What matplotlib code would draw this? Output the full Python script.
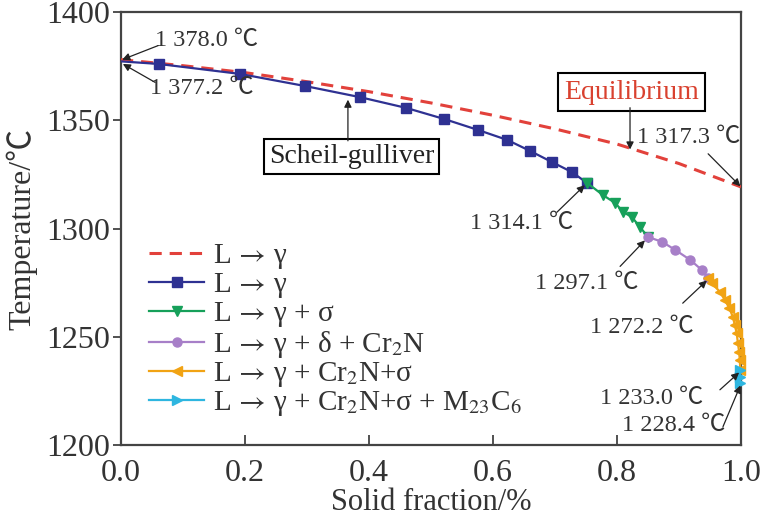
import matplotlib
matplotlib.use("Agg")
import matplotlib.pyplot as plt

plt.rcParams['font.family'] = ['Liberation Serif', 'Noto Sans CJK SC', 'DejaVu Serif']
plt.rcParams['mathtext.fontset'] = 'stix'

# 平衡凝固
eq_x = [0.0, 0.1, 0.2, 0.3, 0.4, 0.5, 0.6, 0.7, 0.8, 0.9, 1.0]
eq_T = [1378.0, 1375.2, 1372.0, 1367.8, 1363.2, 1358.0, 1352.3, 1346.0, 1339.0, 1330.0, 1319.2]

# Scheil-gulliver 各段
s1_x = [0.0, 0.061, 0.192, 0.297, 0.385, 0.460, 0.521, 0.576, 0.623, 0.660, 0.695, 0.727, 0.752]
s1_T = [1377.2, 1376.0, 1371.4, 1365.8, 1360.7, 1355.7, 1350.6, 1345.5, 1340.9, 1335.8, 1330.7, 1326.1, 1321.0]
s2_x = [0.752, 0.777, 0.797, 0.810, 0.824, 0.837, 0.850]
s2_T = [1321.0, 1315.5, 1311.8, 1307.6, 1305.3, 1300.7, 1296.1]
s3_x = [0.850, 0.873, 0.894, 0.918, 0.937, 0.947]
s3_T = [1296.1, 1293.8, 1290.1, 1285.5, 1280.8, 1277.1]
s4_x = [0.947, 0.953, 0.966, 0.974, 0.981, 0.987, 0.990, 0.993, 0.995, 0.997, 0.998, 0.999]
s4_T = [1277.1, 1274.8, 1270.7, 1267.0, 1263.3, 1259.1, 1255.4, 1251.7, 1247.1, 1243.0, 1239.3, 1234.6]
s5_x = [0.999, 0.999, 0.999]
s5_T = [1234.6, 1231.5, 1228.6]

labels = [
    r'L$\,\rightarrow\,$γ',
    r'L$\,\rightarrow\,$γ',
    r'L$\,\rightarrow\,$γ + σ',
    r'L$\,\rightarrow\,$γ + δ + Cr$_2$N',
    r'L$\,\rightarrow\,$γ + Cr$_2$N+σ',
    r'L$\,\rightarrow\,$γ + Cr$_2$N+σ + M$_{23}$C$_6$',
]

# 注释: (文字, 文字左端x, 文字中心y, 箭尾x, 箭尾y, 箭头x, 箭头y)
notes = [
    ('1 378.0 ℃', 0.055, 1387.0, 0.060, 1384.5, 0.002, 1378.0),
    ('1 377.2 ℃', 0.047, 1364.5, 0.055, 1367.5, 0.003, 1376.0),
    ('1 314.1 ℃', 0.563, 1302.5, 0.703, 1307.5, 0.748, 1320.0),
    ('1 297.1 ℃', 0.668, 1274.8, 0.805, 1282.5, 0.845, 1294.5),
    ('1 272.2 ℃', 0.757, 1254.5, 0.906, 1265.5, 0.945, 1276.0),
    ('1 233.0 ℃', 0.773, 1221.5, 0.966, 1225.5, 0.997, 1233.5),
    ('1 228.4 ℃', 0.808, 1209.0, 0.971, 1208.5, 0.999, 1227.5),
    ('1 317.3 ℃', 0.832, 1342.0, 0.947, 1334.5, 0.999, 1319.5),
]

fig = plt.figure(figsize=(7.67, 5.2), dpi=100)
ax = fig.add_axes([121 / 767, 1 - 445 / 520, 620 / 767, 433 / 520])

ax.plot(eq_x, eq_T, '--', color='#e2413b', lw=2.2, dashes=(4, 2.6), label=labels[0], zorder=3)
ax.plot(s1_x, s1_T, '-', color='#2e3192', lw=1.6, marker='s', ms=6.5, markevery=slice(1, None),
        label=labels[1], zorder=4)
ax.plot(s2_x, s2_T, '-', color='#16a05a', lw=1.6, marker='v', ms=7.5, label=labels[2], zorder=4)
ax.plot(s3_x, s3_T, '-', color='#a77fc8', lw=1.6, marker='o', ms=6.5, label=labels[3], zorder=4)
ax.plot(s4_x, s4_T, '-', color='#f1a314', lw=1.6, marker='<', ms=7.5, label=labels[4], zorder=4,
        clip_on=False)
ax.plot(s5_x, s5_T, '-', color='#2eb6e0', lw=1.6, marker='>', ms=7.5, label=labels[5], zorder=4,
        clip_on=False)

arrow_kw = dict(arrowstyle='-|>', color='#222222', lw=0.9, mutation_scale=11, shrinkA=0, shrinkB=0)
for txt, tx, ty, ax0, ay0, hx, hy in notes:
    ax.text(tx, ty, txt, ha='left', va='center', fontsize=17.5, color='#333333', zorder=6)
    ax.annotate('', xy=(hx, hy), xytext=(ax0, ay0), arrowprops=arrow_kw, zorder=6)

# 方框标签
ax.text(0.372, 1333.3, 'Scheil-gulliver', ha='center', va='center', fontsize=20, color='#222222',
        bbox=dict(boxstyle='square,pad=0.18', fc='white', ec='black', lw=1.5), zorder=6)
ax.annotate('', xy=(0.366, 1359.5), xytext=(0.366, 1340.5), arrowprops=arrow_kw, zorder=6)
ax.text(0.824, 1363.0, 'Equilibrium', ha='center', va='center', fontsize=20, color='#d9412f',
        bbox=dict(boxstyle='square,pad=0.22', fc='white', ec='black', lw=1.5), zorder=6)
ax.annotate('', xy=(0.821, 1336.5), xytext=(0.821, 1355.8), arrowprops=arrow_kw, zorder=6)

ax.set_xlim(0, 1.0)
ax.set_ylim(1200, 1400)
ax.set_xticks([0.0, 0.2, 0.4, 0.6, 0.8, 1.0])
ax.set_xticklabels(['0.0', '0.2', '0.4', '0.6', '0.8', '1.0'])
ax.set_yticks([1200, 1250, 1300, 1350, 1400])
ax.tick_params(axis='x', direction='in', length=7, width=1.2, pad=10, labelsize=23, colors='#333333')
ax.tick_params(axis='y', direction='out', length=6, width=1.2, pad=2, labelsize=23, colors='#333333')
for sp in ax.spines.values():
    sp.set_linewidth(1.6)
    sp.set_color('#444444')

ax.set_xlabel('Solid fraction/%', fontsize=22, color='#333333', labelpad=0)
ax.set_ylabel('Temperature/℃', fontsize=23, color='#333333', labelpad=6)

leg = ax.legend(loc='upper left', bbox_to_anchor=(0.045, 0.468), frameon=False, fontsize=21,
                handlelength=1.9, handletextpad=0.3, labelspacing=0.0, borderpad=0, borderaxespad=0)
for t in leg.get_texts():
    t.set_color('#333333')

fig.savefig('out.png', dpi=100)
